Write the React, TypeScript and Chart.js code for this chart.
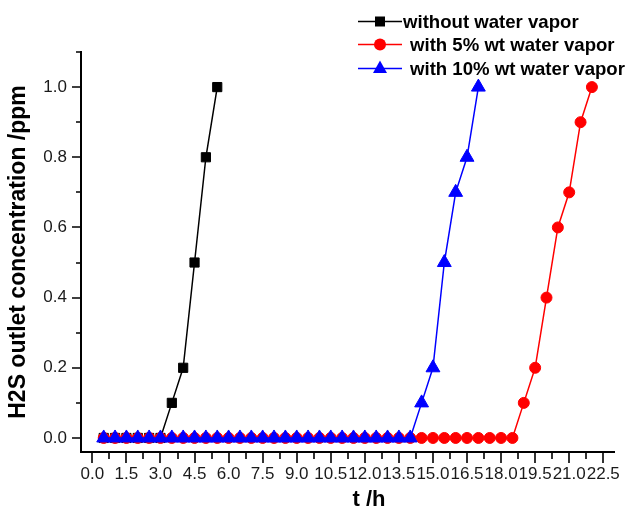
import React, { useEffect, useRef } from 'react';
import { Chart, registerables } from 'chart.js';

Chart.register(...registerables);

// ---- data ----
const times = [
  0.5, 1.0, 1.5, 2.0, 2.5, 3.0, 3.5, 4.0, 4.5, 5.0, 5.5,
  6.0, 6.5, 7.0, 7.5, 8.0, 8.5, 9.0, 9.5, 10.0, 10.5, 11.0,
  11.5, 12.0, 12.5, 13.0, 13.5, 14.0, 14.5, 15.0, 15.5, 16.0, 16.5,
  17.0, 17.5, 18.0, 18.5, 19.0, 19.5, 20.0, 20.5, 21.0, 21.5, 22.0,
];

const seriesLabels = [
  'without water vapor',
  'with 5% wt water vapor',
  'with 10% wt water vapor',
];

const noVaporPpm = [0, 0, 0, 0, 0, 0, 0.1, 0.2, 0.5, 0.8, 1.0];

const vapor5Ppm = [
  0, 0, 0, 0, 0, 0, 0, 0, 0, 0, 0,
  0, 0, 0, 0, 0, 0, 0, 0, 0, 0, 0,
  0, 0, 0, 0, 0, 0, 0, 0, 0, 0, 0,
  0, 0, 0, 0, 0.1, 0.2, 0.4, 0.6, 0.7, 0.9, 1.0,
];

const vapor10Ppm = [
  0, 0, 0, 0, 0, 0, 0, 0, 0, 0, 0,
  0, 0, 0, 0, 0, 0, 0, 0, 0, 0, 0,
  0, 0, 0, 0, 0, 0, 0.1, 0.2, 0.5, 0.7, 0.8,
  1.0,
];

const seriesColors = ['#000000', '#ff0000', '#0000ff'];

// axis ranges / tick steps
const X_MIN = -0.5;
const X_MAX = 23;
const X_TICK_STEP = 0.75;
const X_LABEL_STEP = 1.5;
const Y_MIN = -0.04;
const Y_MAX = 1.1;
const Y_TICK_STEP = 0.1;
const Y_LABEL_STEP = 0.2;

const xTitle = 't /h';
const yTitle = 'H2S outlet concentration /ppm';

const FONT = '"Liberation Sans", Arial, Helvetica, sans-serif';

const toPoints = (ys: number[]) => ys.map((y, i) => ({ x: times[i], y }));

const isMultiple = (v: number, step: number) => {
  const r = Math.round(v / step);
  return Math.abs(v - r * step) < 1e-6;
};

const tickMarksPlugin = {
  id: 'tickMarks',
  afterDraw(chart: any) {
    const { ctx, chartArea } = chart;
    const xs = chart.scales.x;
    const ys = chart.scales.y;
    ctx.save();
    ctx.strokeStyle = '#000';
    ctx.lineWidth = 1.6;
    ctx.beginPath();
    for (const t of xs.ticks) {
      const px = Math.round(xs.getPixelForValue(t.value));
      const major = isMultiple(t.value, X_LABEL_STEP);
      ctx.moveTo(px, chartArea.bottom);
      ctx.lineTo(px, chartArea.bottom + (major ? 11 : 7));
    }
    for (const t of ys.ticks) {
      const py = Math.round(ys.getPixelForValue(t.value));
      const major = isMultiple(t.value, Y_LABEL_STEP);
      ctx.moveTo(chartArea.left, py);
      ctx.lineTo(chartArea.left - (major ? 9 : 5), py);
    }
    ctx.stroke();

    // x axis title
    ctx.fillStyle = '#000';
    ctx.font = `bold 22px ${FONT}`;
    ctx.textAlign = 'center';
    ctx.textBaseline = 'alphabetic';
    ctx.fillText(xTitle, 369, 506);
    ctx.restore();
  },
};

const legendPlugin = {
  id: 'customLegend',
  afterDraw(chart: any) {
    const { ctx } = chart;
    const rowsY = [21.5, 44.5, 68.5];
    const textX = [403, 410, 410];
    const styles = ['rect', 'circle', 'triangle'];
    ctx.save();
    chart.data.datasets.forEach((ds: any, i: number) => {
      const y = rowsY[i];
      const color = ds.borderColor;
      ctx.strokeStyle = color;
      ctx.fillStyle = color;
      ctx.lineWidth = 1.5;
      ctx.beginPath();
      ctx.moveTo(358, y);
      ctx.lineTo(402, y);
      ctx.stroke();
      const cx = 380;
      ctx.beginPath();
      if (styles[i] === 'rect') {
        ctx.rect(cx - 5, y - 5, 10, 10);
      } else if (styles[i] === 'circle') {
        ctx.arc(cx, y, 6, 0, Math.PI * 2);
      } else {
        ctx.moveTo(cx, y - 8);
        ctx.lineTo(cx + 7, y + 4.5);
        ctx.lineTo(cx - 7, y + 4.5);
        ctx.closePath();
      }
      ctx.fill();
      ctx.fillStyle = '#000';
      ctx.font = `bold 18.6px ${FONT}`;
      ctx.textAlign = 'left';
      ctx.textBaseline = 'middle';
      ctx.fillText(ds.label, textX[i], y + 1);
    });
    ctx.restore();
  },
};

export default function App() {
  const canvasRef = useRef<HTMLCanvasElement | null>(null);

  useEffect(() => {
    if (!canvasRef.current) return;
    const chart = new Chart(canvasRef.current, {
      type: 'line',
      data: {
        datasets: [
          {
            label: seriesLabels[0],
            data: toPoints(noVaporPpm),
            borderColor: seriesColors[0],
            backgroundColor: seriesColors[0],
            pointStyle: 'rect',
            pointRadius: 6.5,
            pointBorderWidth: 1,
            borderWidth: 1.5,
            order: 2,
          },
          {
            label: seriesLabels[1],
            data: toPoints(vapor5Ppm),
            borderColor: seriesColors[1],
            backgroundColor: seriesColors[1],
            pointStyle: 'circle',
            pointRadius: 5.5,
            pointBorderWidth: 1,
            borderWidth: 1.5,
            order: 1,
          },
          {
            label: seriesLabels[2],
            data: toPoints(vapor10Ppm),
            borderColor: seriesColors[2],
            backgroundColor: seriesColors[2],
            pointStyle: 'triangle',
            pointRadius: 8,
            pointBorderWidth: 1,
            borderWidth: 1.5,
            order: 0,
          },
        ],
      },
      options: {
        responsive: false,
        animation: false,
        events: [],
        devicePixelRatio: 1,
        layout: { padding: { top: 52, right: 8, bottom: 0, left: 0 } },
        plugins: {
          legend: { display: false },
          tooltip: { enabled: false },
        },
        scales: {
          x: {
            type: 'linear',
            min: X_MIN,
            max: X_MAX,
            afterFit: (scale: any) => {
              scale.height = 57;
            },
            grid: { display: false, drawTicks: false },
            border: { display: true, color: '#000', width: 2 },
            ticks: {
              stepSize: X_TICK_STEP,
              includeBounds: false,
              autoSkip: false,
              maxRotation: 0,
              minRotation: 0,
              padding: 12,
              color: '#1a1a1a',
              font: { family: FONT, size: 17 },
              callback: (v: any) => (isMultiple(Number(v), X_LABEL_STEP) ? Number(v).toFixed(1) : ''),
            },
          },
          y: {
            type: 'linear',
            min: Y_MIN,
            max: Y_MAX,
            afterFit: (scale: any) => {
              scale.width = 81;
            },
            grid: { display: false, drawTicks: false },
            border: { display: true, color: '#000', width: 2 },
            title: {
              display: true,
              text: yTitle,
              color: '#000',
              font: { family: FONT, size: 23, weight: 'bold' },
              padding: { top: 5, bottom: 0 },
            },
            ticks: {
              stepSize: Y_TICK_STEP,
              includeBounds: false,
              autoSkip: false,
              padding: 14,
              color: '#1a1a1a',
              font: { family: FONT, size: 17 },
              callback: (v: any) => (isMultiple(Number(v), Y_LABEL_STEP) ? Number(v).toFixed(1) : ''),
            },
          },
        },
      },
      plugins: [tickMarksPlugin, legendPlugin],
    } as any);
    return () => chart.destroy();
  }, []);

  return (
    <div style={{ position: 'absolute', left: 0, top: 0, width: 632, height: 509, background: '#fff' }}>
      <canvas ref={canvasRef} width={632} height={509} style={{ display: 'block' }} />
    </div>
  );
}
